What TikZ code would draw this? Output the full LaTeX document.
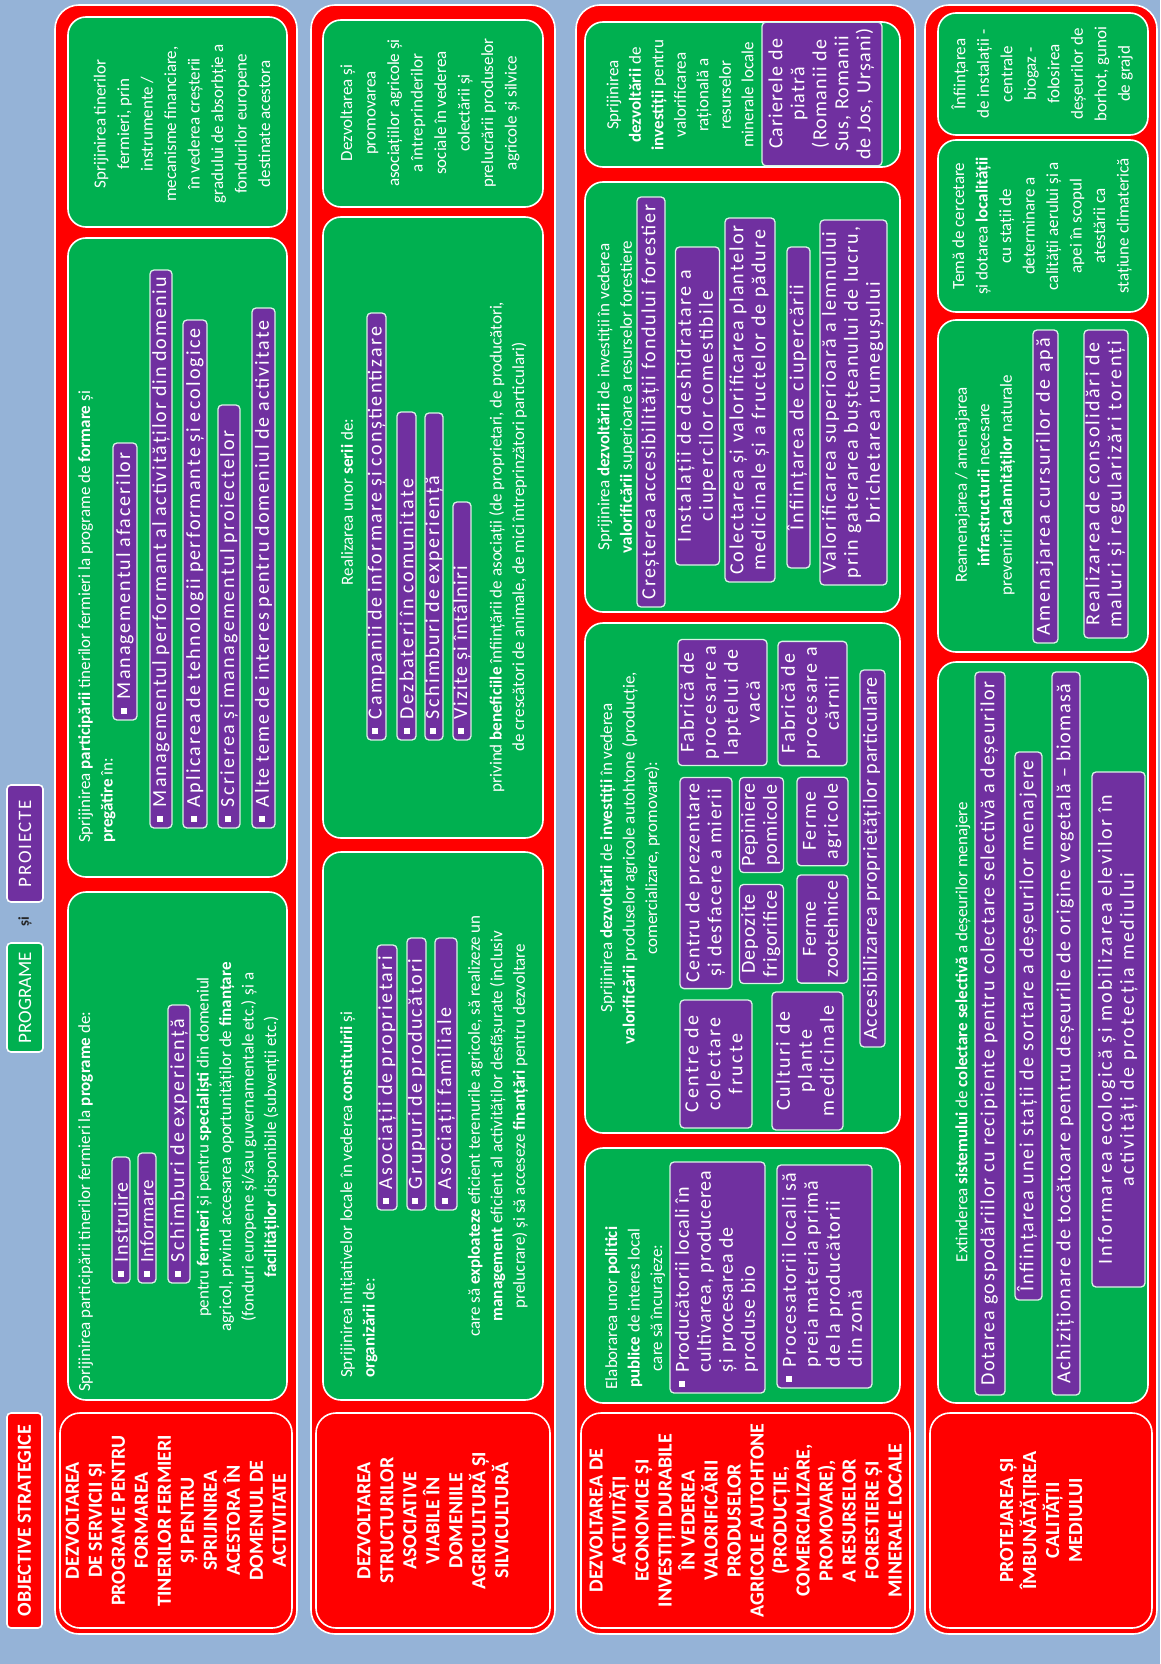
\documentclass[tikz,border=0pt]{standalone}
\usepackage{fontspec}
\setmainfont{Carlito}
\newfontfamily\pfam[LetterSpace=9]{Carlito}
\newfontfamily\pfamA{Carlito}
\newfontfamily\pfamB[LetterSpace=10]{Carlito}
\definecolor{bgblue}{HTML}{95B3D7}
\definecolor{myred}{HTML}{FF0000}
\definecolor{mygreen}{HTML}{00B050}
\definecolor{mypurple}{HTML}{7030A0}
\newcommand\gfont{\fontsize{17}{22.5}\selectfont}
\newcommand\gfontw{\fontsize{17}{23.5}\selectfont}
\newcommand\pfont{\pfam\fontsize{17}{21.5}\selectfont}
\newcommand\ofont{\bfseries\fontsize{20}{23}\selectfont}
\newcommand\sq{\rule[0.18em]{0.3em}{0.3em}\hspace{0.45em}}
\newsavebox\mysbA
\newsavebox\mysbB
\newcommand\fitbox[2]{%
 \sbox\mysbA{\pfamA\fontsize{20}{22}\selectfont #2}%
 \sbox\mysbB{\pfamB\fontsize{20}{22}\selectfont #2}%
 \edef\myWA{\the\wd\mysbA}\edef\myWB{\the\wd\mysbB}%
 \pgfmathsetmacro\myWF{\myWA+0.4*(\myWB-\myWA)}%
 \pgfmathtruncatemacro\mycond{\myWF>#1 ? 1 : 0}%
 \ifnum\mycond=1
   \pgfmathsetmacro\mysz{20*#1/\myWF}\def\myls{4}%
 \else
   \def\mysz{20}\pgfmathtruncatemacro\myls{min(12,10*(#1-\myWA)/(\myWB-\myWA))}%
 \fi
 \pgfmathsetmacro\mylead{1.1*\mysz}%
 {\pfamA\fontsize{\mysz}{\mylead}\selectfont\addfontfeature{LetterSpace=\myls}#2}}
\tikzset{
 rowbox/.style={rotate=90, draw=white, line width=1.6pt, fill=myred, rounded corners=24pt, inner sep=0pt},
 objcell/.style={rotate=90, draw=white, line width=1.6pt, fill=myred, rounded corners=20pt, inner sep=0pt, text=white, font=\ofont, align=center},
 gbox/.style={rotate=90, draw=white, line width=1.6pt, fill=mygreen, rounded corners=18pt, inner sep=0pt},
 pbox/.style={rotate=90, draw=white!85!mygreen, line width=1.3pt, fill=mypurple, rounded corners=4pt, text=white, font=\pfont, inner xsep=6pt, inner ysep=0pt},
 gtext/.style={rotate=90, text=white, font=\gfont, align=center, inner sep=0pt},
 hdr/.style={rotate=90, draw=white, line width=1.6pt, rounded corners=4pt, text=white, inner sep=0pt},
}
\newcommand\boxnode[7]{%
 \pgfmathsetmacro\mybw{#6-#5}\pgfmathsetmacro\mybh{#4-#3}%
 \node[#1, minimum width=\mybw pt, minimum height=\mybh pt] (#2) at ({(#3+#4)/2},{(#5+#6)/2}) {#7};}
% left aligned bullet item: name,x1,x2,y1,y2,target,text
\newcommand\pbl[7]{\pgfmathsetmacro\mytw{#5-#4-12}%
 \boxnode{pbox,align=left,text width=\mytw pt}{#1}{#2}{#3}{#4}{#5}{\fitbox{#6}{\sq #7}}}
% hanging bullet item
\newcommand\pbh[7]{\pgfmathsetmacro\mytw{#5-#4-12}%
 \boxnode{pbox,align=left,text width=\mytw pt}{#1}{#2}{#3}{#4}{#5}{\fitbox{#6}{\sq\begin{tabular}[t]{@{}l@{}}#7\end{tabular}}}}
% centered item
\newcommand\pbc[7]{%
 \boxnode{pbox}{#1}{#2}{#3}{#4}{#5}{\fitbox{#6}{\begin{tabular}{@{}c@{}}#7\end{tabular}}}}
\begin{document}
\begin{tikzpicture}[x=1pt,y=-1pt]
\fill[bgblue] (0,0) rectangle (1160,1664);
% header
\boxnode{hdr,fill=myred,font=\ofont}{hobj}{7}{42}{1413}{1628}{OBJECTIVE STRATEGICE}
\boxnode{hdr,fill=mygreen,font=\fontsize{19}{21}\selectfont}{hprog}{7}{43}{943}{1052}{PROGRAME}
\node[rotate=90, font=\bfseries\fontsize{15}{17}\selectfont, text=black!85, inner sep=0pt] (hsi) at (25,922) {și};
\boxnode{hdr,fill=mypurple,font=\pfam\fontsize{19}{21}\selectfont}{hproi}{7}{43}{785}{902}{PROIECTE}
% rows
\boxnode{rowbox}{row1}{55}{297}{5}{1634}{}
\boxnode{rowbox}{row2}{311}{555}{5}{1634}{}
\boxnode{rowbox}{row3}{576}{915}{5}{1634}{}
\boxnode{rowbox}{row4}{925}{1157}{5}{1634}{}
% objective cells
\boxnode{objcell}{obj1}{60}{292}{1413}{1628}{DEZVOLTAREA\\DE SERVICII ȘI\\PROGRAME PENTRU\\FORMAREA\\TINERILOR FERMIERI\\ȘI PENTRU\\SPRIJINIREA\\ACESTORA ÎN\\DOMENIUL DE\\ACTIVITATE}
\boxnode{objcell}{obj2}{316}{550}{1413}{1628}{DEZVOLTAREA\\STRUCTURILOR\\ASOCIATIVE\\VIABILE ÎN\\DOMENIILE\\AGRICULTURĂ ȘI\\SILVICULTURĂ}
\boxnode{objcell}{obj3}{581}{910}{1413}{1628}{DEZVOLTAREA DE\\ACTIVITĂȚI\\ECONOMICE ȘI\\INVESTIȚII DURABILE\\ÎN VEDEREA\\VALORIFICĂRII\\PRODUSELOR\\AGRICOLE AUTOHTONE\\(PRODUCȚIE,\\COMERCIALIZARE,\\PROMOVARE),\\A RESURSELOR\\FORESTIERE ȘI\\MINERALE LOCALE}
\boxnode{objcell}{obj4}{930}{1152}{1413}{1628}{PROTEJAREA ȘI\\ÎMBUNĂTĂȚIREA\\CALITĂȚII\\MEDIULUI}
% green boxes
\boxnode{gbox}{gA}{68}{287}{892}{1400}{}
\boxnode{gbox}{gB}{68}{287}{238}{877}{}
\boxnode{gbox}{gC}{68}{287}{17}{227}{}
\boxnode{gbox}{gD}{323}{543}{852}{1400}{}
\boxnode{gbox}{gE}{323}{543}{217}{838}{}
\boxnode{gbox}{gF}{323}{543}{20}{207}{}
\boxnode{gbox}{gG}{585}{900}{1148}{1403}{}
\boxnode{gbox}{gH}{585}{900}{623}{1133}{}
\boxnode{gbox}{gI}{585}{900}{182}{612}{}
\boxnode{gbox}{gJ}{585}{900}{22}{167}{}
\boxnode{gbox}{gK}{938}{1148}{662}{1403}{}
\boxnode{gbox}{gL}{938}{1148}{320}{652}{}
\boxnode{gbox}{gM}{938}{1148}{140}{312}{}
\boxnode{gbox}{gN}{938}{1148}{13}{135}{}
% row 1
\node[gtext, align=left, anchor=north west] (tA1) at (78,1392) {Sprijinirea participării tinerilor fermieri la \textbf{programe} de:};
\pbl{pA1}{112}{130}{1157}{1283}{95}{Instruire}
\pbl{pA2}{138}{156}{1153}{1283}{97}{Informare}
\pbl{pA3}{168}{190}{1005}{1283}{266}{Schimburi de experiență}
\node[gtext] (tA2) at (238,1147) {pentru \textbf{fermieri} și pentru \textbf{specialiști} din domeniul\\agricol, privind accesarea oportunităților de \textbf{finanțare}\\(fonduri europene și/sau guvernamentale etc.) și a\\\textbf{facilităților} disponibile (subvenții etc.)};
\node[gtext, align=left, anchor=north west] (tB1) at (78,843) {Sprijinirea \textbf{participării} tinerilor fermieri la programe de \textbf{formare} și\\\textbf{pregătire} în:};
\pbl{pB1}{113}{137}{443}{720}{265}{Managementul afacerilor}
\pbl{pB2}{150}{172}{270}{828}{546}{Managementul performant al activităților din domeniu}
\pbl{pB3}{183}{207}{320}{828}{496}{Aplicarea de tehnologii performante și ecologice}
\pbl{pB4}{218}{240}{405}{828}{400}{Scrierea și managementul proiectelor}
\pbl{pB5}{252}{275}{308}{828}{508}{Alte teme de interes pentru domeniul de activitate}
\node[gtext, font=\gfontw] (tC) at (182,124) {Sprijinirea tinerilor\\fermieri, prin\\instrumente /\\mecanisme financiare,\\în vederea creșterii\\gradului de absorbție a\\fondurilor europene\\destinate acestora};
% row 2
\node[gtext, align=left, anchor=north west] (tD1) at (340,1378) {Sprijinirea inițiativelor locale în vederea \textbf{constituirii} și\\\textbf{organizării} de:};
\pbl{pD1}{377}{397}{945}{1210}{253}{Asociații de proprietari}
\pbl{pD2}{407}{426}{938}{1210}{260}{Grupuri de producători}
\pbl{pD3}{435}{457}{938}{1210}{215}{Asociații familiale}
\node[gtext] (tD2) at (498,1126) {care să \textbf{exploateze} eficient terenurile agricole, să realizeze un\\\textbf{management} eficient al activităților desfășurate (inclusiv\\prelucrare) și să acceseze \textbf{finanțări} pentru dezvoltare};
\node[gtext] (tE1) at (347,502) {Realizarea unor \textbf{serii} de:};
\pbl{pE1}{367}{386}{313}{740}{415}{Campanii de informare și conștientizare}
\pbl{pE2}{397}{416}{412}{740}{272}{Dezbateri în comunitate}
\pbl{pE3}{425}{443}{413}{740}{273}{Schimburi de experiență}
\pbl{pE4}{453}{471}{502}{740}{170}{Vizite și întâlniri}
\node[gtext] (tE2) at (508,547) {privind \textbf{beneficiile} înființării de asociații (de proprietari, de producători,\\de crescători de animale, de mici întreprinzători particulari)};
\node[gtext, font=\gfontw] (tF) at (430,113) {Dezvoltarea și\\promovarea\\asociațiilor agricole și\\a întreprinderilor\\sociale în vederea\\colectării și\\prelucrării produselor\\agricole și silvice};
% row 3
\node[gtext] (tG) at (635,1308) {Elaborarea unor \textbf{politici}\\\textbf{publice} de interes local\\care să încurajeze:};
\pbh{pG1}{670}{765}{1162}{1393}{219}{Producătorii locali în\\cultivarea, producerea\\și procesarea de\\produse bio}
\pbh{pG2}{777}{872}{1165}{1388}{211}{Procesatorii locali să\\preia materia primă\\de la producătorii\\din zonă}
\node[gtext] (tH) at (630,858) {Sprijinirea \textbf{dezvoltării} de \textbf{investiții} în vederea\\\textbf{valorificării} produselor agricole autohtone (producție,\\comercializare, promovare):};
\pbc{pH1}{680}{752}{1000}{1128}{118}{Centre de\\colectare\\fructe}
\pbc{pH2}{680}{732}{778}{988}{200}{Centru de prezentare\\și desfacere a mierii}
\pbc{pH3}{678}{767}{640}{765}{115}{Fabrică de\\procesare a\\laptelui de\\vacă}
\pbc{pH4}{740}{783}{885}{983}{88}{Depozite\\frigorifice}
\pbc{pH5}{740}{783}{778}{872}{84}{Pepiniere\\pomicole}
\pbc{pH6}{772}{843}{992}{1130}{128}{Culturi de\\plante\\medicinale}
\pbc{pH7}{797}{848}{875}{983}{98}{Ferme\\zootehnice}
\pbc{pH8}{797}{848}{778}{865}{77}{Ferme\\agricole}
\pbc{pH9}{778}{847}{642}{765}{113}{Fabrică de\\procesare a\\cărnii}
\pbc{pH10}{860}{885}{670}{1047}{367}{Accesibilizarea proprietăților particulare}
\node[gtext] (tI) at (616,397) {Sprijinirea \textbf{dezvoltării} de investiții în vederea\\\textbf{valorificării} superioare a resurselor forestiere};
\pbc{pI1}{637}{665}{197}{607}{398}{Creșterea accesibilității fondului forestier}
\pbc{pI2}{677}{718}{247}{565}{306}{Instalații de deshidratare a\\ciupercilor comestibile}
\pbc{pI3}{725}{775}{218}{582}{352}{Colectarea și valorificarea plantelor\\medicinale și a fructelor de pădure}
\pbc{pI4}{787}{810}{247}{568}{246}{Înființarea de ciupercării}
\pbc{pI5}{820}{887}{220}{585}{353}{Valorificarea superioară a lemnului\\prin gaterarea bușteanului de lucru,\\brichetarea rumegușului}
\node[gtext] (tJ) at (680,95) {Sprijinirea\\\textbf{dezvoltării} de\\\textbf{investiții} pentru\\valorificarea\\rațională a\\resurselor\\minerale locale};
\pbc{pJ1}{762}{882}{25}{163}{132}{Carierele de\\piatră\\(Romanii de\\Sus, Romanii\\de Jos, Urșani)}
% row 4
\node[gtext] (tK) at (963,1032) {Extinderea \textbf{sistemului} de \textbf{colectare selectivă} a deșeurilor menajere};
\pbc{pK1}{975}{1005}{672}{1395}{711}{Dotarea gospodăriilor cu recipiente pentru colectare selectivă a deșeurilor}
\pbc{pK2}{1015}{1042}{752}{1300}{536}{Înființarea unei stații de sortare a deșeurilor menajere}
\pbc{pK3}{1052}{1080}{672}{1395}{711}{Achiziționare de tocătoare pentru deșeurile de origine vegetală – biomasă}
\pbc{pK4}{1092}{1145}{772}{1287}{503}{Informarea ecologică și mobilizarea elevilor în\\activități de protecția mediului}
\node[gtext] (tL) at (985,485) {Reamenajarea / amenajarea\\\textbf{infrastructurii} necesare\\prevenirii \textbf{calamităților} naturale};
\pbc{pL1}{1033}{1058}{330}{643}{301}{Amenajarea cursurilor de apă}
\pbc{pL2}{1085}{1127}{330}{638}{296}{Realizarea de consolidări de\\maluri și regularizări torenți}
\node[gtext, font=\gfontw] (tM) at (1042,226) {Temă de cercetare\\și dotarea \textbf{localității}\\cu stații de\\determinare a\\calității aerului și a\\apei în scopul\\atestării ca\\stațiune climaterică};
\node[gtext, font=\gfontw] (tN) at (1042,74) {Înființarea\\de instalații -\\centrale\\biogaz -\\folosirea\\deșeurilor de\\borhot, gunoi\\de grajd};
\end{tikzpicture}
\end{document}
